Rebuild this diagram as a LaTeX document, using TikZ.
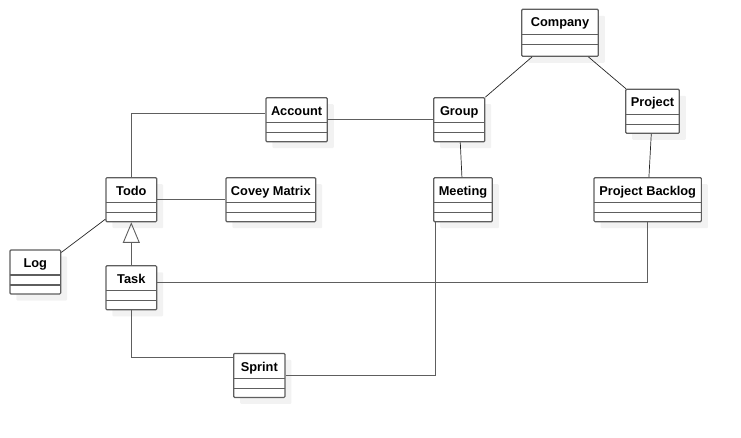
\documentclass[tikz,border=0pt]{standalone}
\usepackage{fontspec}
\setmainfont{Liberation Sans}
\usetikzlibrary{shapes,shadows,arrows.meta}
\definecolor{shadowgray}{HTML}{F2F2F2}
\definecolor{linegray}{HTML}{5E5E5E}

\begin{document}
\begin{tikzpicture}[x=1pt, y=-1pt,
    umlclass/.style={rectangle, draw=linegray, line width=1.2pt, fill=white, rounded corners=1pt,
        inner xsep=2pt, inner ysep=0pt, text height=17.7pt, text depth=26.3pt,
        font=\fontsize{12.8}{15}\selectfont\bfseries,
        general shadow={fill=shadowgray, draw=none, shadow xshift=6.5pt, shadow yshift=-6.5pt},
        path picture={
            \draw[linegray, line width=1.2pt] ([yshift=-25pt]path picture bounding box.north west) -- ([yshift=-25pt]path picture bounding box.north east);
            \draw[linegray, line width=1.2pt] ([yshift=-35pt]path picture bounding box.north west) -- ([yshift=-35pt]path picture bounding box.north east);
        }},
    assoc/.style={draw=linegray, line width=1.2pt},
    link/.style={draw=black!85, line width=0.7pt},
    extends/.style={assoc, -{Triangle[open, length=20.6pt, width=17pt, line width=0.9pt]}}]
    \useasboundingbox (0,0) rectangle (741,438);

    \node[umlclass, minimum width=76.6pt, text depth=29.3pt] (company) at (560,32.8) {Company};
    \node[umlclass, minimum width=61.3pt] (account) at (296.6,119.7) {Account};
    \node[umlclass, minimum width=51pt] (group) at (459.2,119.7) {Group};
    \node[umlclass, minimum width=53.6pt] (project) at (652.5,111.3) {Project};
    \node[umlclass, minimum width=50.7pt] (todo) at (131.3,199.7) {Todo};
    \node[umlclass, minimum width=89.7pt] (covey) at (270.8,199.7) {Covey Matrix};
    \node[umlclass, minimum width=58.6pt] (meeting) at (463,199.7) {Meeting};
    \node[umlclass, minimum width=107.3pt] (backlog) at (647.7,199.7) {Project Backlog};
    \node[umlclass, minimum width=50.7pt] (log) at (35.3,272) {Log};
    \node[umlclass, minimum width=50.7pt] (task) at (131.3,287.8) {Task};
    \node[umlclass, minimum width=51.3pt] (sprint) at (259.3,375.4) {Sprint};

    \draw[link] (company) -- (group);
    \draw[link] (company) -- (project);
    \draw[link] (group) -- (meeting);
    \draw[link] (project) -- (backlog);
    \draw[link] (log) -- (todo);
    \draw[assoc] (todo.north) |- ([yshift=6pt]account.west);
    \draw[assoc] (account) -- (group);
    \draw[assoc] (todo) -- (covey);
    \draw[extends] (task) -- (todo);
    \draw[assoc] ([yshift=5.5pt]task.east) -| (backlog.south);
    \draw[assoc] (task.south) |- ([yshift=18pt]sprint.west);
    \draw[assoc] (sprint.east) -| ([xshift=2pt]meeting.south west);
\end{tikzpicture}
\end{document}
